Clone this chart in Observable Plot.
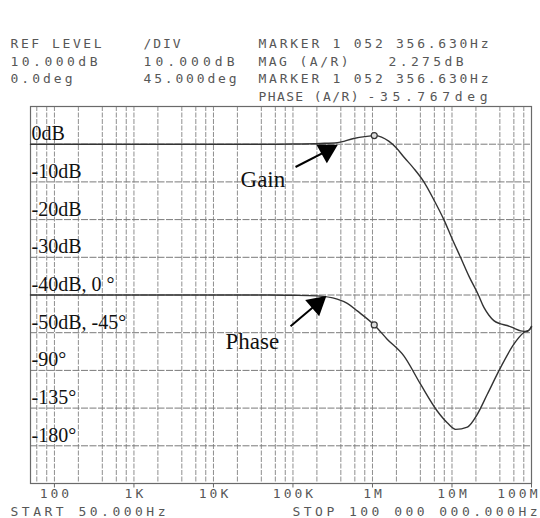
<!DOCTYPE html>
<html><head><meta charset="utf-8">
<script src="https://cdn.jsdelivr.net/npm/d3@7"></script>
<script src="https://cdn.jsdelivr.net/npm/@observablehq/plot@0.6"></script>
<style>body{margin:0;background:#fff} svg{display:block}</style>
</head><body><div id="chart"></div>
<script>
// ---------- data ----------
const gainFreq = [50, 1e3, 1e4, 5e4, 1e5, 2.2e5, 3.6e5, 5.8e5, 8e5, 1.052e6, 1.3e6, 1.6e6, 2e6, 2.48e6, 3.3e6, 4.43e6, 6e6, 7.9e6, 10e6, 12.8e6, 16.5e6, 21.5e6, 25.2e6, 29e6, 33.6e6, 40e6, 49.5e6, 60e6, 73e6, 88.5e6, 1e8];
const gainDb   = [0, 0, 0, 0, 0.05, 0.2, 0.4, 1.5, 2.0, 2.275, 1.9, 0.8, -1.0, -3.4, -6.4, -10, -15, -20, -25, -30, -35.2, -40, -43.3, -45.3, -46.8, -47.6, -48.1, -48.8, -49.5, -49.7, -48.3];
const phaseFreq = [50, 1e3, 1e4, 5e4, 1e5, 2e5, 3.6e5, 4.82e5, 6.43e5, 1.052e6, 1.53e6, 2.48e6, 4.02e6, 6.52e6, 8.71e6, 11.1e6, 15.6e6, 20.8e6, 27.8e6, 40.8e6, 60e6, 80e6, 96e6, 1e8];
const phaseDeg  = [0, 0, 0, 0, -0.3, -1, -5, -10, -19, -35.767, -52.7, -72.7, -106.5, -138.5, -152.5, -160.4, -157.6, -142.4, -118.5, -86.7, -58.7, -44.8, -40.7, -38];
const markerFreq = 1052356.63;
const markerGain = 2.275;
const markerPhase = -35.767;

const tickFreqs  = [100, 1e3, 1e4, 1e5, 1e6, 1e7, 1e8];
const tickLabels = ["100", "1K", "10K", "100K", "1M", "10M", "100M"];
const gridDb = [0, -10, -20, -30, -40, -50, -60, -70, -80];
const yLabels = ["0dB", "-10dB", "-20dB", "-30dB", "-40dB, 0 °", "-50dB, -45°", "-90°", "-135°", "-180°"];
const yLabelLevels = [0, -10, -20, -30, -40, -50, -60, -70, -80];
const annotText = ["Gain", "Phase"];
const annotFreq = [21.9e3, 14.2e3];
const annotDb = [-11.36, -54.3];
const arrowTailFreq = [107.7e3, 93.2e3];
const arrowTailDb = [-6.05, -48.3];
const arrowHeadFreq = [268e3, 200e3];
const arrowHeadDb = [-1.77, -42.4];

const headerCol1 = ["REF LEVEL", "10.000dB", "0.0deg"];
const headerCol2 = ["/DIV", "10.000dB", "45.000deg"];
const headerCol3 = ["MARKER 1 052 356.630Hz", "MAG (A/R)", "MARKER 1 052 356.630Hz", "PHASE (A/R)"];
const headerValues = ["2.275dB", "-35.767deg"];
const footerStart = "START 50.000Hz";
const footerStop = "STOP 100 000 000.000Hz";

// phase is drawn on the dB grid: 0° at -40 dB, 45°/div
const phaseToDb = p => p / 4.5 - 40;

// grid frequencies: 1,2,4,6,8 per decade
const gridFreqs = [];
for (let e = 1; e <= 8; e++) for (const m of [1, 2, 4, 6, 8]) { const f = m * 10 ** e; if (f > 50 && f < 1e8) gridFreqs.push(f); }

const gain = gainFreq.map((f, i) => ({f, v: gainDb[i]}));
const phase = phaseFreq.map((f, i) => ({f, v: phaseToDb(phaseDeg[i])}));
const ticks = tickFreqs.map((f, i) => ({f, label: tickLabels[i]}));
const ylab = yLabels.map((t, i) => ({t, v: yLabelLevels[i]}));
const annots = annotText.map((t, i) => ({t, f: annotFreq[i], v: annotDb[i]}));
const arrows = arrowTailFreq.map((f, i) => ({f1: f, v1: arrowTailDb[i], f2: arrowHeadFreq[i], v2: arrowHeadDb[i]}));

// header layout (pixels of the page): [x, yCenter, width]
const mLeft = 30, mTop = 106, frameBottom = 483;
const hdrItems = [
  [headerCol1[0], 10, 43, 91], [headerCol1[1], 10, 61, 87], [headerCol1[2], 10, 78, 62],
  [headerCol2[0], 143, 43, 37], [headerCol2[1], 143, 61, 91], [headerCol2[2], 143, 78, 93],
  [headerCol3[0], 258, 43, 230], [headerCol3[1], 258, 61, 90], [headerCol3[2], 258, 78, 230], [headerCol3[3], 258, 96, 100],
  [headerValues[0], 388, 61, 75], [headerValues[1], 367, 96, 120],
  [footerStart, 10, 511, 155], [footerStop, 292, 511, 245]
];
const mono = "DejaVu Sans Mono";
const ink = "#575757";
const hdrMarks = hdrItems.map(([t, x, y]) => Plot.text([t], {text: d => d, frameAnchor: "top-left", dx: x - mLeft, dy: y - mTop,
  textAnchor: "start", lineAnchor: "middle", fontFamily: mono, fontSize: 13, fill: ink}));

const chart = Plot.plot({
  width: 540, height: 518,
  marginLeft: mLeft, marginRight: 9, marginTop: mTop, marginBottom: 518 - frameBottom,
  x: {type: "log", domain: [50, 1e8], axis: null},
  y: {domain: [-90, 10], axis: null},
  style: {background: "#fff", overflow: "visible"},
  marks: [
    Plot.ruleX(gridFreqs, {stroke: "#8f8f8f", strokeWidth: 1, strokeDasharray: "5,1.5"}),
    Plot.ruleY(gridDb, {stroke: "#7a7a7a", strokeWidth: 1, strokeDasharray: "7,1.5"}),
    Plot.frame({stroke: "#6a6a6a", strokeWidth: 1.2}),
    Plot.ruleX(tickFreqs, {y1: -90, y2: -91.2, stroke: "#666"}),
    Plot.line(gain, {x: "f", y: "v", stroke: "#333", strokeWidth: 1.4, curve: "monotone-x"}),
    Plot.line(phase, {x: "f", y: "v", stroke: "#333", strokeWidth: 1.4, curve: "monotone-x"}),
    Plot.dot([{f: markerFreq, v: markerGain}, {f: markerFreq, v: phaseToDb(markerPhase)}], {x: "f", y: "v", r: 3, stroke: "#333", strokeWidth: 1.2, fill: "#ddd"}),
    Plot.text(ticks.slice(0, -1), {x: "f", text: "label", frameAnchor: "bottom", dy: 10, dx: 1.5, textAnchor: "middle", lineAnchor: "middle", fontFamily: mono, fontSize: 13, fill: ink}),
    Plot.text(ticks.slice(-1), {x: "f", text: "label", frameAnchor: "bottom", dy: 10, dx: 9, textAnchor: "end", lineAnchor: "middle", fontFamily: mono, fontSize: 13, fill: ink}),
    ...hdrMarks,
    Plot.text(ylab, {x: 50, y: "v", text: "t", textAnchor: "start", lineAnchor: "bottom", dx: 1, dy: -4, fontFamily: "Liberation Serif", fontSize: 20, fill: "#111"}),
    Plot.text(annots, {x: "f", y: "v", text: "t", textAnchor: "start", lineAnchor: "bottom", fontFamily: "Liberation Serif", fontSize: 23, fill: "#111"}),
    Plot.link(arrows, {x1: "f1", y1: "v1", x2: "f2", y2: "v2", stroke: "#000", strokeWidth: 2}),
    Plot.dot(arrows.slice(0, 1), {x: "f2", y: "v2", symbol: "triangle", r: 8, fill: "#000", rotate: 60.7}),
    Plot.dot(arrows.slice(1), {x: "f2", y: "v2", symbol: "triangle", r: 8, fill: "#000", rotate: 49.5})
  ]
});
document.getElementById("chart").appendChild(chart);

// fit the printer-style header texts to their measured widths (matched by content, in order)
const pending = hdrItems.map(d => ({t: d[0], w: d[3], used: false}));
chart.querySelectorAll("text").forEach(el => {
  const s = el.textContent;
  const item = pending.find(p => !p.used && p.t === s);
  if (item) { item.used = true; el.setAttribute("textLength", item.w); el.setAttribute("lengthAdjust", "spacing"); }
  else if (tickLabels.includes(s)) el.setAttribute("letter-spacing", "3");
});
</script></body></html>
